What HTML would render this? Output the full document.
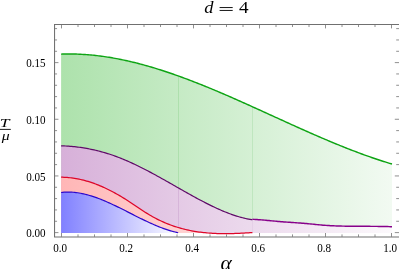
<!DOCTYPE html>
<html><head><meta charset="utf-8"><title>d = 4</title>
<style>
html,body{margin:0;padding:0;background:#fff;}
body{width:399px;height:269px;overflow:hidden;position:relative;font-family:"Liberation Serif",serif;}
svg{position:absolute;left:0;top:0;display:block;}
text{font-family:"Liberation Serif",serif;fill:#000;}
</style></head><body>
<svg width="399" height="269" viewBox="0 0 399 269">
<defs>
<linearGradient id="gG" gradientUnits="userSpaceOnUse" x1="61.1" y1="0" x2="392.0" y2="0">
<stop offset="0" stop-color="rgb(173,226,172)"/><stop offset="1" stop-color="rgb(242,250,242)"/></linearGradient>
<linearGradient id="gP" gradientUnits="userSpaceOnUse" x1="61.1" y1="0" x2="392.0" y2="0">
<stop offset="0" stop-color="rgb(215,176,217)"/><stop offset="1" stop-color="rgb(252,249,252)"/></linearGradient>
<linearGradient id="gR" gradientUnits="userSpaceOnUse" x1="61.1" y1="0" x2="392.0" y2="0">
<stop offset="0" stop-color="rgb(255,182,182)"/><stop offset="1" stop-color="rgb(255,255,255)"/></linearGradient>
<linearGradient id="gB" gradientUnits="userSpaceOnUse" x1="61.1" y1="0" x2="180" y2="0">
<stop offset="0" stop-color="rgb(128,128,255)"/><stop offset="1" stop-color="rgb(255,255,255)"/></linearGradient>
</defs>
<rect width="399" height="269" fill="#fff"/>
<path d="M61.1,54.12 L62.6,54.07 L64.1,54.03 L65.6,54.00 L67.1,53.98 L68.6,53.97 L70.1,53.98 L71.6,53.99 L73.1,54.01 L74.6,54.04 L76.1,54.08 L77.6,54.13 L79.1,54.19 L80.6,54.26 L82.1,54.34 L83.6,54.43 L85.1,54.53 L86.6,54.64 L88.1,54.75 L89.6,54.88 L91.1,55.02 L92.6,55.16 L94.1,55.31 L95.6,55.47 L97.1,55.65 L98.6,55.83 L100.1,56.01 L101.6,56.21 L103.1,56.42 L104.6,56.63 L106.1,56.85 L107.6,57.08 L109.1,57.32 L110.6,57.57 L112.1,57.82 L113.6,58.09 L115.1,58.36 L116.6,58.64 L118.1,58.92 L119.6,59.22 L121.1,59.52 L122.6,59.83 L124.1,60.14 L125.6,60.47 L127.1,60.80 L128.6,61.14 L130.1,61.48 L131.6,61.83 L133.1,62.19 L134.6,62.56 L136.1,62.93 L137.6,63.31 L139.1,63.70 L140.6,64.10 L142.1,64.50 L143.6,64.90 L145.1,65.32 L146.6,65.73 L148.1,66.16 L149.6,66.59 L151.1,67.03 L152.6,67.47 L154.1,67.92 L155.6,68.38 L157.1,68.84 L158.6,69.31 L160.1,69.78 L161.6,70.26 L163.1,70.74 L164.6,71.23 L166.1,71.73 L167.6,72.23 L169.1,72.73 L170.6,73.25 L172.1,73.76 L173.6,74.28 L175.1,74.81 L176.6,75.34 L178.1,75.87 L179.6,76.41 L181.1,76.96 L182.6,77.51 L184.1,78.06 L185.6,78.62 L187.1,79.18 L188.6,79.75 L190.1,80.32 L191.6,80.89 L193.1,81.47 L194.6,82.05 L196.1,82.64 L197.6,83.23 L199.1,83.82 L200.6,84.42 L202.1,85.02 L203.6,85.63 L205.1,86.23 L206.6,86.84 L208.1,87.46 L209.6,88.08 L211.1,88.70 L212.6,89.32 L214.1,89.95 L215.6,90.58 L217.1,91.21 L218.6,91.85 L220.1,92.49 L221.6,93.13 L223.1,93.77 L224.6,94.41 L226.1,95.06 L227.6,95.71 L229.1,96.37 L230.6,97.02 L232.1,97.68 L233.6,98.34 L235.1,99.00 L236.6,99.66 L238.1,100.32 L239.6,100.99 L241.1,101.66 L242.6,102.33 L244.1,103.00 L245.6,103.67 L247.1,104.34 L248.6,105.02 L250.1,105.69 L251.6,106.37 L253.1,107.05 L254.6,107.73 L256.1,108.41 L257.6,109.09 L259.1,109.77 L260.6,110.45 L262.1,111.13 L263.6,111.82 L265.1,112.50 L266.6,113.18 L268.1,113.87 L269.6,114.55 L271.1,115.24 L272.6,115.92 L274.1,116.60 L275.6,117.29 L277.1,117.97 L278.6,118.66 L280.1,119.34 L281.6,120.02 L283.1,120.71 L284.6,121.39 L286.1,122.07 L287.6,122.75 L289.1,123.43 L290.6,124.11 L292.1,124.79 L293.6,125.47 L295.1,126.14 L296.6,126.82 L298.1,127.49 L299.6,128.16 L301.1,128.83 L302.6,129.50 L304.1,130.17 L305.6,130.84 L307.1,131.50 L308.6,132.17 L310.1,132.83 L311.6,133.49 L313.1,134.15 L314.6,134.80 L316.1,135.46 L317.6,136.11 L319.1,136.76 L320.6,137.40 L322.1,138.05 L323.6,138.69 L325.1,139.33 L326.6,139.96 L328.1,140.60 L329.6,141.23 L331.1,141.86 L332.6,142.48 L334.1,143.11 L335.6,143.72 L337.1,144.34 L338.6,144.95 L340.1,145.56 L341.6,146.17 L343.1,146.77 L344.6,147.37 L346.1,147.97 L347.6,148.56 L349.1,149.15 L350.6,149.73 L352.1,150.31 L353.6,150.89 L355.1,151.46 L356.6,152.03 L358.1,152.59 L359.6,153.15 L361.1,153.71 L362.6,154.26 L364.1,154.80 L365.6,155.35 L367.1,155.88 L368.6,156.41 L370.1,156.94 L371.6,157.47 L373.1,157.98 L374.6,158.50 L376.1,159.00 L377.6,159.51 L379.1,160.00 L380.6,160.49 L382.1,160.98 L383.6,161.46 L385.1,161.94 L386.6,162.41 L388.1,162.87 L389.6,163.33 L391.1,163.78 L392.0,164.05 L392.0,232.9 L61.1,232.9 Z" fill="url(#gG)"/>
<path d="M61.1,145.84 L62.6,145.89 L64.1,145.94 L65.6,146.01 L67.1,146.10 L68.6,146.19 L70.1,146.30 L71.6,146.43 L73.1,146.57 L74.6,146.72 L76.1,146.88 L77.6,147.06 L79.1,147.25 L80.6,147.46 L82.1,147.68 L83.6,147.91 L85.1,148.16 L86.6,148.42 L88.1,148.69 L89.6,148.98 L91.1,149.29 L92.6,149.60 L94.1,149.94 L95.6,150.28 L97.1,150.64 L98.6,151.02 L100.1,151.40 L101.6,151.81 L103.1,152.22 L104.6,152.66 L106.1,153.10 L107.6,153.56 L109.1,154.04 L110.6,154.53 L112.1,155.03 L113.6,155.55 L115.1,156.09 L116.6,156.63 L118.1,157.20 L119.6,157.78 L121.1,158.37 L122.6,158.98 L124.1,159.60 L125.6,160.23 L127.1,160.88 L128.6,161.53 L130.1,162.21 L131.6,162.89 L133.1,163.58 L134.6,164.29 L136.1,165.00 L137.6,165.73 L139.1,166.46 L140.6,167.21 L142.1,167.96 L143.6,168.72 L145.1,169.49 L146.6,170.27 L148.1,171.06 L149.6,171.85 L151.1,172.65 L152.6,173.46 L154.1,174.27 L155.6,175.09 L157.1,175.91 L158.6,176.74 L160.1,177.57 L161.6,178.40 L163.1,179.24 L164.6,180.09 L166.1,180.93 L167.6,181.78 L169.1,182.63 L170.6,183.49 L172.1,184.34 L173.6,185.20 L175.1,186.05 L176.6,186.91 L178.1,187.76 L179.6,188.62 L181.1,189.47 L182.6,190.32 L184.1,191.18 L185.6,192.02 L187.1,192.87 L188.6,193.71 L190.1,194.55 L191.6,195.38 L193.1,196.21 L194.6,197.03 L196.1,197.85 L197.6,198.66 L199.1,199.47 L200.6,200.27 L202.1,201.06 L203.6,201.84 L205.1,202.61 L206.6,203.38 L208.1,204.14 L209.6,204.88 L211.1,205.62 L212.6,206.34 L214.1,207.06 L215.6,207.76 L217.1,208.45 L218.6,209.13 L220.1,209.79 L221.6,210.44 L223.1,211.08 L224.6,211.70 L226.1,212.31 L227.6,212.90 L229.1,213.47 L230.6,214.03 L232.1,214.57 L233.6,215.09 L235.1,215.59 L236.6,216.07 L238.1,216.53 L239.6,216.97 L241.1,217.38 L242.6,217.78 L244.1,218.15 L245.6,218.50 L247.1,218.82 L248.6,219.12 L250.1,219.39 L251.6,219.63 L252.5,219.77 L254.0,219.39 L255.5,219.46 L257.0,219.55 L258.5,219.66 L260.0,219.77 L261.5,219.88 L263.0,220.01 L264.5,220.14 L266.0,220.27 L267.5,220.41 L269.0,220.56 L270.5,220.70 L272.0,220.85 L273.5,220.99 L275.0,221.13 L276.5,221.28 L278.0,221.41 L279.5,221.55 L281.0,221.67 L282.5,221.80 L284.0,221.91 L285.5,222.02 L287.0,222.13 L288.5,222.24 L290.0,222.34 L291.5,222.45 L293.0,222.55 L294.5,222.65 L296.0,222.76 L297.5,222.86 L299.0,222.97 L300.5,223.08 L302.0,223.19 L303.5,223.31 L305.0,223.44 L306.5,223.57 L308.0,223.71 L309.5,223.85 L311.0,224.00 L312.5,224.15 L314.0,224.30 L315.5,224.45 L317.0,224.60 L318.5,224.75 L320.0,224.89 L321.5,225.03 L323.0,225.16 L324.5,225.28 L326.0,225.40 L327.5,225.50 L329.0,225.59 L330.5,225.68 L332.0,225.76 L333.5,225.82 L335.0,225.89 L336.5,225.94 L338.0,225.99 L339.5,226.03 L341.0,226.07 L342.5,226.11 L344.0,226.14 L345.5,226.16 L347.0,226.19 L348.5,226.21 L350.0,226.22 L351.5,226.24 L353.0,226.25 L354.5,226.27 L356.0,226.28 L357.5,226.28 L359.0,226.29 L360.5,226.30 L362.0,226.30 L363.5,226.31 L365.0,226.32 L366.5,226.32 L368.0,226.33 L369.5,226.34 L371.0,226.35 L372.5,226.36 L374.0,226.37 L375.5,226.38 L377.0,226.40 L378.5,226.42 L380.0,226.44 L381.5,226.46 L383.0,226.49 L384.5,226.52 L386.0,226.55 L387.5,226.59 L389.0,226.64 L390.5,226.68 L392.0,226.73 L392.0,232.9 L61.1,232.9 Z" fill="url(#gP)"/>
<path d="M61.1,177.21 L62.6,177.23 L64.1,177.29 L65.6,177.36 L67.1,177.47 L68.6,177.59 L70.1,177.75 L71.6,177.92 L73.1,178.13 L74.6,178.35 L76.1,178.60 L77.6,178.88 L79.1,179.18 L80.6,179.50 L82.1,179.85 L83.6,180.22 L85.1,180.61 L86.6,181.03 L88.1,181.47 L89.6,181.93 L91.1,182.42 L92.6,182.93 L94.1,183.46 L95.6,184.01 L97.1,184.58 L98.6,185.18 L100.1,185.80 L101.6,186.44 L103.1,187.10 L104.6,187.78 L106.1,188.48 L107.6,189.20 L109.1,189.95 L110.6,190.71 L112.1,191.49 L113.6,192.29 L115.1,193.10 L116.6,193.94 L118.1,194.79 L119.6,195.66 L121.1,196.55 L122.6,197.45 L124.1,198.37 L125.6,199.30 L127.1,200.25 L128.6,201.21 L130.1,202.19 L131.6,203.18 L133.1,204.18 L134.6,205.19 L136.1,206.20 L137.6,207.21 L139.1,208.22 L140.6,209.23 L142.1,210.22 L143.6,211.20 L145.1,212.17 L146.6,213.12 L148.1,214.05 L149.6,214.95 L151.1,215.83 L152.6,216.68 L154.1,217.50 L155.6,218.30 L157.1,219.08 L158.6,219.83 L160.1,220.55 L161.6,221.25 L163.1,221.93 L164.6,222.59 L166.1,223.22 L167.6,223.83 L169.1,224.41 L170.6,224.98 L172.1,225.52 L173.6,226.04 L175.1,226.54 L176.6,227.03 L178.1,227.49 L179.6,227.93 L181.1,228.35 L182.6,228.75 L184.1,229.13 L185.6,229.50 L187.1,229.85 L188.6,230.17 L190.1,230.49 L191.6,230.78 L193.1,231.06 L194.6,231.32 L196.1,231.57 L197.6,231.80 L199.1,232.01 L200.6,232.21 L202.1,232.40 L203.6,232.57 L205.1,232.73 L206.6,232.87 L208.1,233.00 L209.6,233.12 L211.1,233.22 L212.6,233.32 L214.1,233.40 L215.6,233.47 L217.1,233.53 L218.6,233.57 L220.1,233.61 L221.6,233.64 L223.1,233.66 L224.6,233.66 L226.1,233.66 L227.6,233.65 L229.1,233.64 L230.6,233.61 L232.1,233.58 L233.6,233.53 L235.1,233.49 L236.6,233.43 L238.1,233.37 L239.6,233.31 L241.1,233.23 L242.6,233.16 L244.1,233.07 L245.6,232.99 L247.1,232.90 L248.6,232.80 L250.1,232.70 L251.6,232.60 L252.4,232.55 L252.4,232.9 L61.1,232.9 Z" fill="url(#gR)"/>
<path d="M61.1,192.48 L62.6,192.32 L64.1,192.20 L65.6,192.12 L67.1,192.08 L68.6,192.08 L70.1,192.11 L71.6,192.18 L73.1,192.28 L74.6,192.42 L76.1,192.59 L77.6,192.79 L79.1,193.02 L80.6,193.29 L82.1,193.58 L83.6,193.90 L85.1,194.25 L86.6,194.63 L88.1,195.03 L89.6,195.45 L91.1,195.90 L92.6,196.38 L94.1,196.87 L95.6,197.39 L97.1,197.93 L98.6,198.48 L100.1,199.06 L101.6,199.65 L103.1,200.26 L104.6,200.89 L106.1,201.53 L107.6,202.19 L109.1,202.85 L110.6,203.54 L112.1,204.23 L113.6,204.93 L115.1,205.65 L116.6,206.37 L118.1,207.10 L119.6,207.84 L121.1,208.58 L122.6,209.33 L124.1,210.08 L125.6,210.84 L127.1,211.60 L128.6,212.36 L130.1,213.13 L131.6,213.89 L133.1,214.65 L134.6,215.41 L136.1,216.17 L137.6,216.92 L139.1,217.67 L140.6,218.42 L142.1,219.15 L143.6,219.89 L145.1,220.61 L146.6,221.32 L148.1,222.03 L149.6,222.72 L151.1,223.40 L152.6,224.07 L154.1,224.73 L155.6,225.37 L157.1,226.00 L158.6,226.61 L160.1,227.21 L161.6,227.78 L163.1,228.34 L164.6,228.88 L166.1,229.40 L167.6,229.90 L169.1,230.37 L170.6,230.82 L172.1,231.25 L173.6,231.66 L175.1,232.03 L176.6,232.38 L178.1,232.71 L178.2,232.73 L178.2,232.9 L61.1,232.9 Z" fill="url(#gB)"/>
<line x1="178.4" y1="76.0" x2="178.4" y2="187.9" stroke="rgb(150,212,150)" stroke-width="0.7" opacity="0.8"/>
<line x1="178.4" y1="187.9" x2="178.4" y2="227.6" stroke="rgb(200,160,205)" stroke-width="0.7" opacity="0.8"/>
<line x1="252.5" y1="106.8" x2="252.5" y2="219.8" stroke="rgb(175,224,175)" stroke-width="0.7" opacity="0.8"/>
<line x1="252.5" y1="219.8" x2="252.5" y2="232.9" stroke="rgb(225,200,228)" stroke-width="0.7" opacity="0.8"/>
<g fill="none" stroke-linejoin="round" stroke-linecap="butt">
<path d="M61.1,54.12 L62.6,54.07 L64.1,54.03 L65.6,54.00 L67.1,53.98 L68.6,53.97 L70.1,53.98 L71.6,53.99 L73.1,54.01 L74.6,54.04 L76.1,54.08 L77.6,54.13 L79.1,54.19 L80.6,54.26 L82.1,54.34 L83.6,54.43 L85.1,54.53 L86.6,54.64 L88.1,54.75 L89.6,54.88 L91.1,55.02 L92.6,55.16 L94.1,55.31 L95.6,55.47 L97.1,55.65 L98.6,55.83 L100.1,56.01 L101.6,56.21 L103.1,56.42 L104.6,56.63 L106.1,56.85 L107.6,57.08 L109.1,57.32 L110.6,57.57 L112.1,57.82 L113.6,58.09 L115.1,58.36 L116.6,58.64 L118.1,58.92 L119.6,59.22 L121.1,59.52 L122.6,59.83 L124.1,60.14 L125.6,60.47 L127.1,60.80 L128.6,61.14 L130.1,61.48 L131.6,61.83 L133.1,62.19 L134.6,62.56 L136.1,62.93 L137.6,63.31 L139.1,63.70 L140.6,64.10 L142.1,64.50 L143.6,64.90 L145.1,65.32 L146.6,65.73 L148.1,66.16 L149.6,66.59 L151.1,67.03 L152.6,67.47 L154.1,67.92 L155.6,68.38 L157.1,68.84 L158.6,69.31 L160.1,69.78 L161.6,70.26 L163.1,70.74 L164.6,71.23 L166.1,71.73 L167.6,72.23 L169.1,72.73 L170.6,73.25 L172.1,73.76 L173.6,74.28 L175.1,74.81 L176.6,75.34 L178.1,75.87 L179.6,76.41 L181.1,76.96 L182.6,77.51 L184.1,78.06 L185.6,78.62 L187.1,79.18 L188.6,79.75 L190.1,80.32 L191.6,80.89 L193.1,81.47 L194.6,82.05 L196.1,82.64 L197.6,83.23 L199.1,83.82 L200.6,84.42 L202.1,85.02 L203.6,85.63 L205.1,86.23 L206.6,86.84 L208.1,87.46 L209.6,88.08 L211.1,88.70 L212.6,89.32 L214.1,89.95 L215.6,90.58 L217.1,91.21 L218.6,91.85 L220.1,92.49 L221.6,93.13 L223.1,93.77 L224.6,94.41 L226.1,95.06 L227.6,95.71 L229.1,96.37 L230.6,97.02 L232.1,97.68 L233.6,98.34 L235.1,99.00 L236.6,99.66 L238.1,100.32 L239.6,100.99 L241.1,101.66 L242.6,102.33 L244.1,103.00 L245.6,103.67 L247.1,104.34 L248.6,105.02 L250.1,105.69 L251.6,106.37 L253.1,107.05 L254.6,107.73 L256.1,108.41 L257.6,109.09 L259.1,109.77 L260.6,110.45 L262.1,111.13 L263.6,111.82 L265.1,112.50 L266.6,113.18 L268.1,113.87 L269.6,114.55 L271.1,115.24 L272.6,115.92 L274.1,116.60 L275.6,117.29 L277.1,117.97 L278.6,118.66 L280.1,119.34 L281.6,120.02 L283.1,120.71 L284.6,121.39 L286.1,122.07 L287.6,122.75 L289.1,123.43 L290.6,124.11 L292.1,124.79 L293.6,125.47 L295.1,126.14 L296.6,126.82 L298.1,127.49 L299.6,128.16 L301.1,128.83 L302.6,129.50 L304.1,130.17 L305.6,130.84 L307.1,131.50 L308.6,132.17 L310.1,132.83 L311.6,133.49 L313.1,134.15 L314.6,134.80 L316.1,135.46 L317.6,136.11 L319.1,136.76 L320.6,137.40 L322.1,138.05 L323.6,138.69 L325.1,139.33 L326.6,139.96 L328.1,140.60 L329.6,141.23 L331.1,141.86 L332.6,142.48 L334.1,143.11 L335.6,143.72 L337.1,144.34 L338.6,144.95 L340.1,145.56 L341.6,146.17 L343.1,146.77 L344.6,147.37 L346.1,147.97 L347.6,148.56 L349.1,149.15 L350.6,149.73 L352.1,150.31 L353.6,150.89 L355.1,151.46 L356.6,152.03 L358.1,152.59 L359.6,153.15 L361.1,153.71 L362.6,154.26 L364.1,154.80 L365.6,155.35 L367.1,155.88 L368.6,156.41 L370.1,156.94 L371.6,157.47 L373.1,157.98 L374.6,158.50 L376.1,159.00 L377.6,159.51 L379.1,160.00 L380.6,160.49 L382.1,160.98 L383.6,161.46 L385.1,161.94 L386.6,162.41 L388.1,162.87 L389.6,163.33 L391.1,163.78 L392.0,164.05" stroke="rgb(14,164,20)" stroke-width="1.42"/>
<path d="M61.1,145.84 L62.6,145.89 L64.1,145.94 L65.6,146.01 L67.1,146.10 L68.6,146.19 L70.1,146.30 L71.6,146.43 L73.1,146.57 L74.6,146.72 L76.1,146.88 L77.6,147.06 L79.1,147.25 L80.6,147.46 L82.1,147.68 L83.6,147.91 L85.1,148.16 L86.6,148.42 L88.1,148.69 L89.6,148.98 L91.1,149.29 L92.6,149.60 L94.1,149.94 L95.6,150.28 L97.1,150.64 L98.6,151.02 L100.1,151.40 L101.6,151.81 L103.1,152.22 L104.6,152.66 L106.1,153.10 L107.6,153.56 L109.1,154.04 L110.6,154.53 L112.1,155.03 L113.6,155.55 L115.1,156.09 L116.6,156.63 L118.1,157.20 L119.6,157.78 L121.1,158.37 L122.6,158.98 L124.1,159.60 L125.6,160.23 L127.1,160.88 L128.6,161.53 L130.1,162.21 L131.6,162.89 L133.1,163.58 L134.6,164.29 L136.1,165.00 L137.6,165.73 L139.1,166.46 L140.6,167.21 L142.1,167.96 L143.6,168.72 L145.1,169.49 L146.6,170.27 L148.1,171.06 L149.6,171.85 L151.1,172.65 L152.6,173.46 L154.1,174.27 L155.6,175.09 L157.1,175.91 L158.6,176.74 L160.1,177.57 L161.6,178.40 L163.1,179.24 L164.6,180.09 L166.1,180.93 L167.6,181.78 L169.1,182.63 L170.6,183.49 L172.1,184.34 L173.6,185.20 L175.1,186.05 L176.6,186.91 L178.1,187.76 L179.6,188.62 L181.1,189.47 L182.6,190.32 L184.1,191.18 L185.6,192.02 L187.1,192.87 L188.6,193.71 L190.1,194.55 L191.6,195.38 L193.1,196.21 L194.6,197.03 L196.1,197.85 L197.6,198.66 L199.1,199.47 L200.6,200.27 L202.1,201.06 L203.6,201.84 L205.1,202.61 L206.6,203.38 L208.1,204.14 L209.6,204.88 L211.1,205.62 L212.6,206.34 L214.1,207.06 L215.6,207.76 L217.1,208.45 L218.6,209.13 L220.1,209.79 L221.6,210.44 L223.1,211.08 L224.6,211.70 L226.1,212.31 L227.6,212.90 L229.1,213.47 L230.6,214.03 L232.1,214.57 L233.6,215.09 L235.1,215.59 L236.6,216.07 L238.1,216.53 L239.6,216.97 L241.1,217.38 L242.6,217.78 L244.1,218.15 L245.6,218.50 L247.1,218.82 L248.6,219.12 L250.1,219.39 L251.6,219.63 L252.5,219.77" stroke="rgb(95,10,104)" stroke-width="1.2"/>
<path d="M252.5,219.32 L254.0,219.39 L255.5,219.46 L257.0,219.55 L258.5,219.66 L260.0,219.77 L261.5,219.88 L263.0,220.01 L264.5,220.14 L266.0,220.27 L267.5,220.41 L269.0,220.56 L270.5,220.70 L272.0,220.85 L273.5,220.99 L275.0,221.13 L276.5,221.28 L278.0,221.41 L279.5,221.55 L281.0,221.67 L282.5,221.80 L284.0,221.91 L285.5,222.02 L287.0,222.13 L288.5,222.24 L290.0,222.34 L291.5,222.45 L293.0,222.55 L294.5,222.65 L296.0,222.76 L297.5,222.86 L299.0,222.97 L300.5,223.08 L302.0,223.19 L303.5,223.31 L305.0,223.44 L306.5,223.57 L308.0,223.71 L309.5,223.85 L311.0,224.00 L312.5,224.15 L314.0,224.30 L315.5,224.45 L317.0,224.60 L318.5,224.75 L320.0,224.89 L321.5,225.03 L323.0,225.16 L324.5,225.28 L326.0,225.40 L327.5,225.50 L329.0,225.59 L330.5,225.68 L332.0,225.76 L333.5,225.82 L335.0,225.89 L336.5,225.94 L338.0,225.99 L339.5,226.03 L341.0,226.07 L342.5,226.11 L344.0,226.14 L345.5,226.16 L347.0,226.19 L348.5,226.21 L350.0,226.22 L351.5,226.24 L353.0,226.25 L354.5,226.27 L356.0,226.28 L357.5,226.28 L359.0,226.29 L360.5,226.30 L362.0,226.30 L363.5,226.31 L365.0,226.32 L366.5,226.32 L368.0,226.33 L369.5,226.34 L371.0,226.35 L372.5,226.36 L374.0,226.37 L375.5,226.38 L377.0,226.40 L378.5,226.42 L380.0,226.44 L381.5,226.46 L383.0,226.49 L384.5,226.52 L386.0,226.55 L387.5,226.59 L389.0,226.64 L390.5,226.68 L392.0,226.73" stroke="rgb(135,0,138)" stroke-width="1.45"/>
<path d="M61.1,177.21 L62.6,177.23 L64.1,177.29 L65.6,177.36 L67.1,177.47 L68.6,177.59 L70.1,177.75 L71.6,177.92 L73.1,178.13 L74.6,178.35 L76.1,178.60 L77.6,178.88 L79.1,179.18 L80.6,179.50 L82.1,179.85 L83.6,180.22 L85.1,180.61 L86.6,181.03 L88.1,181.47 L89.6,181.93 L91.1,182.42 L92.6,182.93 L94.1,183.46 L95.6,184.01 L97.1,184.58 L98.6,185.18 L100.1,185.80 L101.6,186.44 L103.1,187.10 L104.6,187.78 L106.1,188.48 L107.6,189.20 L109.1,189.95 L110.6,190.71 L112.1,191.49 L113.6,192.29 L115.1,193.10 L116.6,193.94 L118.1,194.79 L119.6,195.66 L121.1,196.55 L122.6,197.45 L124.1,198.37 L125.6,199.30 L127.1,200.25 L128.6,201.21 L130.1,202.19 L131.6,203.18 L133.1,204.18 L134.6,205.19 L136.1,206.20 L137.6,207.21 L139.1,208.22 L140.6,209.23 L142.1,210.22 L143.6,211.20 L145.1,212.17 L146.6,213.12 L148.1,214.05 L149.6,214.95 L151.1,215.83 L152.6,216.68 L154.1,217.50 L155.6,218.30 L157.1,219.08 L158.6,219.83 L160.1,220.55 L161.6,221.25 L163.1,221.93 L164.6,222.59 L166.1,223.22 L167.6,223.83 L169.1,224.41 L170.6,224.98 L172.1,225.52 L173.6,226.04 L175.1,226.54 L176.6,227.03 L178.1,227.49 L179.6,227.93 L181.1,228.35 L182.6,228.75 L184.1,229.13 L185.6,229.50 L187.1,229.85 L188.6,230.17 L190.1,230.49 L191.6,230.78 L193.1,231.06 L194.6,231.32 L196.1,231.57 L197.6,231.80 L199.1,232.01 L200.6,232.21 L202.1,232.40 L203.6,232.57 L205.1,232.73 L206.6,232.87 L208.1,233.00 L209.6,233.12 L211.1,233.22 L212.6,233.32 L214.1,233.40 L215.6,233.47 L217.1,233.53 L218.6,233.57 L220.1,233.61 L221.6,233.64 L223.1,233.66 L224.6,233.66 L226.1,233.66 L227.6,233.65 L229.1,233.64 L230.6,233.61 L232.1,233.58 L233.6,233.53 L235.1,233.49 L236.6,233.43 L238.1,233.37 L239.6,233.31 L241.1,233.23 L242.6,233.16 L244.1,233.07 L245.6,232.99 L247.1,232.90 L248.6,232.80 L250.1,232.70 L251.6,232.60 L252.4,232.55" stroke="rgb(222,5,40)" stroke-width="1.25"/>
<path d="M61.1,192.48 L62.6,192.32 L64.1,192.20 L65.6,192.12 L67.1,192.08 L68.6,192.08 L70.1,192.11 L71.6,192.18 L73.1,192.28 L74.6,192.42 L76.1,192.59 L77.6,192.79 L79.1,193.02 L80.6,193.29 L82.1,193.58 L83.6,193.90 L85.1,194.25 L86.6,194.63 L88.1,195.03 L89.6,195.45 L91.1,195.90 L92.6,196.38 L94.1,196.87 L95.6,197.39 L97.1,197.93 L98.6,198.48 L100.1,199.06 L101.6,199.65 L103.1,200.26 L104.6,200.89 L106.1,201.53 L107.6,202.19 L109.1,202.85 L110.6,203.54 L112.1,204.23 L113.6,204.93 L115.1,205.65 L116.6,206.37 L118.1,207.10 L119.6,207.84 L121.1,208.58 L122.6,209.33 L124.1,210.08 L125.6,210.84 L127.1,211.60 L128.6,212.36 L130.1,213.13 L131.6,213.89 L133.1,214.65 L134.6,215.41 L136.1,216.17 L137.6,216.92 L139.1,217.67 L140.6,218.42 L142.1,219.15 L143.6,219.89 L145.1,220.61 L146.6,221.32 L148.1,222.03 L149.6,222.72 L151.1,223.40 L152.6,224.07 L154.1,224.73 L155.6,225.37 L157.1,226.00 L158.6,226.61 L160.1,227.21 L161.6,227.78 L163.1,228.34 L164.6,228.88 L166.1,229.40 L167.6,229.90 L169.1,230.37 L170.6,230.82 L172.1,231.25 L173.6,231.66 L175.1,232.03 L176.6,232.38 L178.1,232.71 L178.2,232.73" stroke="rgb(45,8,205)" stroke-width="1.18"/>
</g>
<path d="M399.7,24.52 L54.55,24.52 L54.55,236.9 L399.7,236.9" stroke="rgb(112,112,112)" stroke-width="1.05" fill="none"/>
<g stroke="rgb(115,115,115)" stroke-width="0.8" fill="none">
<line x1="61.50" y1="236.9" x2="61.50" y2="233.00"/><line x1="61.50" y1="24.52" x2="61.50" y2="28.42"/>
<line x1="78.00" y1="236.9" x2="78.00" y2="234.40"/><line x1="78.00" y1="24.52" x2="78.00" y2="27.02"/>
<line x1="94.50" y1="236.9" x2="94.50" y2="234.40"/><line x1="94.50" y1="24.52" x2="94.50" y2="27.02"/>
<line x1="111.00" y1="236.9" x2="111.00" y2="234.40"/><line x1="111.00" y1="24.52" x2="111.00" y2="27.02"/>
<line x1="127.50" y1="236.9" x2="127.50" y2="233.00"/><line x1="127.50" y1="24.52" x2="127.50" y2="28.42"/>
<line x1="144.00" y1="236.9" x2="144.00" y2="234.40"/><line x1="144.00" y1="24.52" x2="144.00" y2="27.02"/>
<line x1="160.50" y1="236.9" x2="160.50" y2="234.40"/><line x1="160.50" y1="24.52" x2="160.50" y2="27.02"/>
<line x1="177.00" y1="236.9" x2="177.00" y2="234.40"/><line x1="177.00" y1="24.52" x2="177.00" y2="27.02"/>
<line x1="193.50" y1="236.9" x2="193.50" y2="233.00"/><line x1="193.50" y1="24.52" x2="193.50" y2="28.42"/>
<line x1="210.00" y1="236.9" x2="210.00" y2="234.40"/><line x1="210.00" y1="24.52" x2="210.00" y2="27.02"/>
<line x1="226.50" y1="236.9" x2="226.50" y2="234.40"/><line x1="226.50" y1="24.52" x2="226.50" y2="27.02"/>
<line x1="243.00" y1="236.9" x2="243.00" y2="234.40"/><line x1="243.00" y1="24.52" x2="243.00" y2="27.02"/>
<line x1="259.50" y1="236.9" x2="259.50" y2="233.00"/><line x1="259.50" y1="24.52" x2="259.50" y2="28.42"/>
<line x1="276.00" y1="236.9" x2="276.00" y2="234.40"/><line x1="276.00" y1="24.52" x2="276.00" y2="27.02"/>
<line x1="292.50" y1="236.9" x2="292.50" y2="234.40"/><line x1="292.50" y1="24.52" x2="292.50" y2="27.02"/>
<line x1="309.00" y1="236.9" x2="309.00" y2="234.40"/><line x1="309.00" y1="24.52" x2="309.00" y2="27.02"/>
<line x1="325.50" y1="236.9" x2="325.50" y2="233.00"/><line x1="325.50" y1="24.52" x2="325.50" y2="28.42"/>
<line x1="342.00" y1="236.9" x2="342.00" y2="234.40"/><line x1="342.00" y1="24.52" x2="342.00" y2="27.02"/>
<line x1="358.50" y1="236.9" x2="358.50" y2="234.40"/><line x1="358.50" y1="24.52" x2="358.50" y2="27.02"/>
<line x1="375.00" y1="236.9" x2="375.00" y2="234.40"/><line x1="375.00" y1="24.52" x2="375.00" y2="27.02"/>
<line x1="391.50" y1="236.9" x2="391.50" y2="233.00"/><line x1="391.50" y1="24.52" x2="391.50" y2="28.42"/>
<line x1="54.55" y1="232.60" x2="58.45" y2="232.60"/><line x1="399.7" y1="232.60" x2="394.80" y2="232.60"/>
<line x1="54.55" y1="221.27" x2="57.05" y2="221.27"/><line x1="399.7" y1="221.27" x2="396.20" y2="221.27"/>
<line x1="54.55" y1="209.94" x2="57.05" y2="209.94"/><line x1="399.7" y1="209.94" x2="396.20" y2="209.94"/>
<line x1="54.55" y1="198.60" x2="57.05" y2="198.60"/><line x1="399.7" y1="198.60" x2="396.20" y2="198.60"/>
<line x1="54.55" y1="187.27" x2="57.05" y2="187.27"/><line x1="399.7" y1="187.27" x2="396.20" y2="187.27"/>
<line x1="54.55" y1="175.94" x2="58.45" y2="175.94"/><line x1="399.7" y1="175.94" x2="394.80" y2="175.94"/>
<line x1="54.55" y1="164.61" x2="57.05" y2="164.61"/><line x1="399.7" y1="164.61" x2="396.20" y2="164.61"/>
<line x1="54.55" y1="153.28" x2="57.05" y2="153.28"/><line x1="399.7" y1="153.28" x2="396.20" y2="153.28"/>
<line x1="54.55" y1="141.94" x2="57.05" y2="141.94"/><line x1="399.7" y1="141.94" x2="396.20" y2="141.94"/>
<line x1="54.55" y1="130.61" x2="57.05" y2="130.61"/><line x1="399.7" y1="130.61" x2="396.20" y2="130.61"/>
<line x1="54.55" y1="119.28" x2="58.45" y2="119.28"/><line x1="399.7" y1="119.28" x2="394.80" y2="119.28"/>
<line x1="54.55" y1="107.95" x2="57.05" y2="107.95"/><line x1="399.7" y1="107.95" x2="396.20" y2="107.95"/>
<line x1="54.55" y1="96.62" x2="57.05" y2="96.62"/><line x1="399.7" y1="96.62" x2="396.20" y2="96.62"/>
<line x1="54.55" y1="85.28" x2="57.05" y2="85.28"/><line x1="399.7" y1="85.28" x2="396.20" y2="85.28"/>
<line x1="54.55" y1="73.95" x2="57.05" y2="73.95"/><line x1="399.7" y1="73.95" x2="396.20" y2="73.95"/>
<line x1="54.55" y1="62.62" x2="58.45" y2="62.62"/><line x1="399.7" y1="62.62" x2="394.80" y2="62.62"/>
<line x1="54.55" y1="51.29" x2="57.05" y2="51.29"/><line x1="399.7" y1="51.29" x2="396.20" y2="51.29"/>
<line x1="54.55" y1="39.96" x2="57.05" y2="39.96"/><line x1="399.7" y1="39.96" x2="396.20" y2="39.96"/>
<line x1="54.55" y1="28.62" x2="57.05" y2="28.62"/><line x1="399.7" y1="28.62" x2="396.20" y2="28.62"/>
</g>
<g style="will-change:transform;filter:grayscale(1)">
<text transform="translate(45.60,237.20) scale(1,1.13)" font-size="11.1" text-anchor="end">0.00</text>
<text transform="translate(45.60,180.54) scale(1,1.13)" font-size="11.1" text-anchor="end">0.05</text>
<text transform="translate(45.60,123.87) scale(1,1.13)" font-size="11.1" text-anchor="end">0.10</text>
<text transform="translate(45.60,67.21) scale(1,1.13)" font-size="11.1" text-anchor="end">0.15</text>
<text transform="translate(60.10,252.20) scale(1,1.13)" font-size="11.1" text-anchor="middle">0.0</text>
<text transform="translate(126.10,252.20) scale(1,1.13)" font-size="11.1" text-anchor="middle">0.2</text>
<text transform="translate(192.10,252.20) scale(1,1.13)" font-size="11.1" text-anchor="middle">0.4</text>
<text transform="translate(258.10,252.20) scale(1,1.13)" font-size="11.1" text-anchor="middle">0.6</text>
<text transform="translate(324.10,252.20) scale(1,1.13)" font-size="11.1" text-anchor="middle">0.8</text>
<text transform="translate(390.10,252.20) scale(1,1.13)" font-size="11.1" text-anchor="middle">1.0</text>
<text transform="translate(204.2,13.1) scale(1.07,1)" font-size="17.3" font-style="italic">d</text>
<path d="M219.6,7.55 H232.7 M219.6,10.45 H232.7" stroke="#000" stroke-width="0.92" fill="none"/>
<text transform="translate(239.0,13.0) scale(1.13,1)" font-size="17">4</text>
<text transform="translate(4.7,126.7) scale(1.3,1)" font-size="13.5" font-style="italic" text-anchor="middle">T</text>
<line x1="0" y1="129.4" x2="10.8" y2="129.4" stroke="#000" stroke-width="0.9"/>
<text transform="translate(5.8,140.1) scale(1.32,1)" font-size="12" font-style="italic" text-anchor="middle">μ</text>
<text x="226.2" y="269.7" font-size="21.5" font-style="italic" text-anchor="middle">α</text>
</g>
</svg>
</body></html>
